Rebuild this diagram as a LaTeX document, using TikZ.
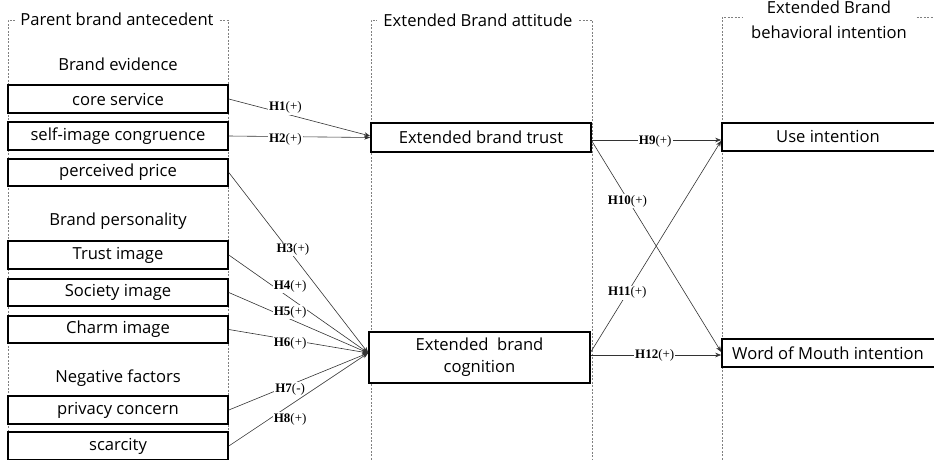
\documentclass[tikz,border=0pt]{standalone}
\usepackage{fontspec}
\setmainfont{Open Sans}
\newfontfamily\labfont{Liberation Serif}
\usetikzlibrary{arrows.meta}
\begin{document}
\begin{tikzpicture}[x=1pt,y=-1pt,
 box/.style={draw=black,line width=1.6pt,minimum width=220pt,minimum height=28pt,inner sep=0pt,font=\fontsize{16.6}{19}\selectfont,fill=white},
 txt/.style={font=\fontsize{16.6}{19}\selectfont,inner sep=0pt},
 frame/.style={draw=gray,dash pattern=on 2pt off 1.5pt,line width=0.6pt},
 conn/.style={draw=black!80,line width=0.6pt,-{Stealth[length=6pt,width=4.5pt]}},
 hyp/.style={font=\labfont\fontsize{13}{15}\selectfont,fill=white,inner sep=1pt}]
\useasboundingbox (0,0) rectangle (934,459);
% frames
\draw[frame] (8,470) -- (8,20) -- (228,20) -- (228,470);
\node[txt,fill=white,inner xsep=5pt] (t1) at (117,19) {Parent brand antecedent};
\draw[frame] (371,470) -- (371,20) -- (592,20) -- (592,470);
\node[txt,fill=white,inner xsep=6pt] (t2) at (478,20) {Extended Brand attitude};
\draw[frame] (722,470) -- (722,17) -- (945,17);
\node[txt,fill=white,inner xsep=8pt,align=center,font=\fontsize{16.6}{25}\selectfont] (t3) at (829,20) {Extended Brand\\behavioral intention};
% headings
\node[txt] (h1) at (118,64) {Brand evidence};
\node[txt] (h2) at (118,221) {Brand personality};
\node[txt] (h3) at (118,378) {Negative factors};
% left boxes
\node[box] (cs) at (118,99) {core service};
\node[box] (sic) at (118,136) {self-image congruence};
\node[box,minimum height=27pt] (pp) at (118,172.5) {perceived price};
\node[box] (ti) at (118,255) {Trust image};
\node[box,minimum height=27pt] (si) at (118,292.5) {Society image};
\node[box,minimum height=27pt] (ci) at (118,329.5) {Charm image};
\node[box] (pc) at (118,410) {privacy concern};
\node[box] (sc) at (118,446) {scarcity};
% middle
\node[box,minimum height=29pt] (trust) at (481,137.5) {Extended brand trust};
\node[box,minimum height=51pt,minimum width=221pt,align=center,font=\fontsize{16.6}{22}\selectfont] (cog) at (479.5,357.5) {Extended\ \ brand\\cognition};
% right
\node[box,minimum height=28pt,minimum width=224pt] (use) at (834,136.7) {\hspace*{-12pt}Use intention};
\node[box,minimum height=28pt,minimum width=224pt] (wom) at (834,353) {\hspace*{-12pt}Word of Mouth intention};
% connectors left
\draw[conn] (cs.east) -- node[hyp,pos=0.4,yshift=6pt]{\textbf{H1}(+)} ([yshift=1.5pt]trust.west);
\draw[conn] (sic.east) -- node[hyp,pos=0.4,yshift=-3pt]{\textbf{H2}(+)} ([yshift=0pt]trust.west);
\draw[conn] (pp.east) -- node[hyp,pos=0.46,yshift=6pt]{\textbf{H3}(+)} ([yshift=4.5pt]cog.west);
\draw[conn] (ti.east) -- node[hyp,pos=0.44,yshift=12pt]{\textbf{H4}(+)} ([yshift=4.5pt]cog.west);
\draw[conn] (si.east) -- node[hyp,pos=0.44,yshift=7pt]{\textbf{H5}(+)} ([yshift=4.5pt]cog.west);
\draw[conn] (ci.east) -- node[hyp,pos=0.44,yshift=-3.5pt]{\textbf{H6}(+)} ([yshift=4.5pt]cog.west);
\draw[conn] (pc.east) -- node[hyp,pos=0.44,yshift=-4pt]{\textbf{H7}(-)} ([yshift=4.5pt]cog.west);
\draw[conn] (sc.east) -- node[hyp,pos=0.44,yshift=-14pt]{\textbf{H8}(+)} ([yshift=4.5pt]cog.west);
% connectors right
\draw[conn] ([yshift=-2.5pt]trust.east) -- node[hyp,pos=0.49,yshift=-1pt]{\textbf{H9}(+)} ([yshift=-3.3pt]use.west);
\draw[conn] ([yshift=-3.5pt]trust.east) -- node[hyp,pos=0.275,yshift=-2pt]{\textbf{H10}(+)} ([yshift=1pt]wom.west);
\draw[conn] ([yshift=5.5pt]cog.east) -- node[hyp,pos=0.28]{\textbf{H11}(+)} ([yshift=-4pt]use.west);
\draw[conn] ([yshift=2.5pt]cog.east) -- node[hyp,pos=0.49]{\textbf{H12}(+)} ([yshift=-2pt]wom.west);
\end{tikzpicture}
\end{document}
